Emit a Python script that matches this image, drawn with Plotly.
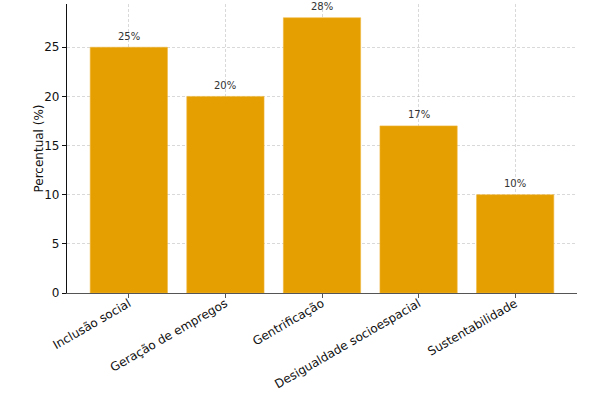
import plotly.graph_objects as go

categories = ["Inclusão social", "Geração de empregos", "Gentrificação",
              "Desigualdade socioespacial", "Sustentabilidade"]
values = [25, 20, 28, 17, 10]
value_labels = ["25%", "20%", "28%", "17%", "10%"]
y_ticks = [0, 5, 10, 15, 20, 25]

xpos = list(range(len(categories)))

fig = go.Figure(go.Bar(
    x=xpos,
    y=values,
    width=0.8,
    marker=dict(color="#E69F00", line=dict(color="#F0B840", width=0.6)),
    hoverinfo="skip",
))

for xi, v, lab in zip(xpos, values, value_labels):
    fig.add_annotation(x=xi, y=v, text=lab, showarrow=False, yshift=11,
                       font=dict(family="DejaVu Sans", size=10, color="#333333"))

fig.add_annotation(xref="paper", yref="paper", x=(38 - 67) / 510, y=0.5,
                   xanchor="center", yanchor="middle",
                   text="Percentual (%)", textangle=-90, showarrow=False,
                   font=dict(family="DejaVu Sans", size=12, color="#111111"))

fig.update_layout(
    width=607, height=393,
    margin=dict(l=67, r=30, t=4, b=100, autoexpand=False),
    paper_bgcolor="white", plot_bgcolor="white",
    font=dict(family="DejaVu Sans", size=12, color="#111111"),
    showlegend=False,
    bargap=0.2,
)
fig.update_xaxes(
    range=[-0.64, 4.64],
    tickmode="array", tickvals=xpos, ticktext=categories,
    tickangle=-30,
    ticks="outside", ticklen=4, tickcolor="#555555",
    ticklabelstandoff=-6,
    showline=True, linecolor="#555555", linewidth=1.2,
    showgrid=True, gridcolor="rgba(170,170,170,0.45)", griddash="3px,2px", gridwidth=0.8,
    layer="above traces",
    tickfont=dict(size=12, color="#111111"),
    zeroline=False,
    automargin=False,
)
fig.update_yaxes(
    range=[0, 29.4],
    tickmode="array", tickvals=y_ticks,
    ticks="outside", ticklen=4, tickcolor="#111111",
    showline=True, linecolor="#111111", linewidth=1.2,
    showgrid=True, gridcolor="rgba(170,170,170,0.45)", griddash="3px,2px", gridwidth=0.8,
    layer="above traces",
    tickfont=dict(size=12, color="#111111"),
    zeroline=False,
    automargin=False,
)

fig.write_html("out.html", config={"displayModeBar": False},
               post_script="document.body.style.margin='0px';")
